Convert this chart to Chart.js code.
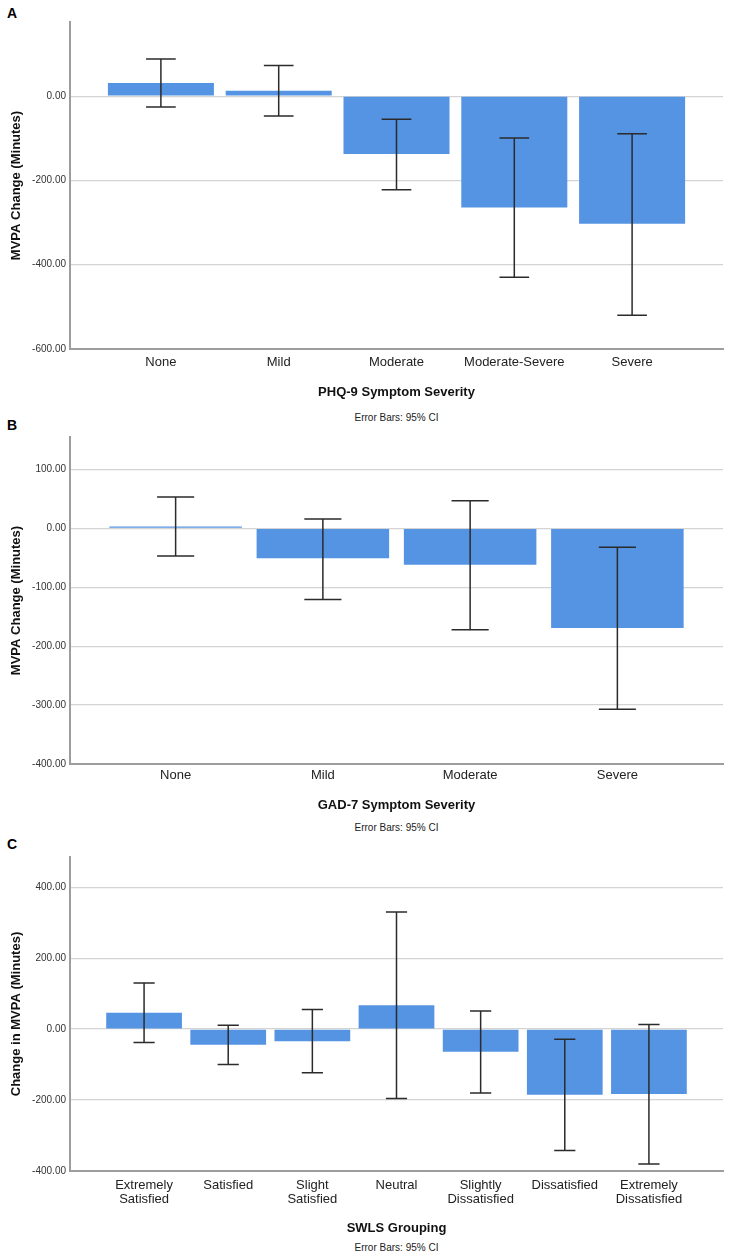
<!DOCTYPE html>
<html lang="en">
<head>
<meta charset="UTF-8">
<title>MVPA change by symptom severity</title>
<script src="https://cdn.jsdelivr.net/npm/chart.js"></script>
<style>
  body { margin: 0; background: #fff; font-family: 'Liberation Sans', Arial, sans-serif; }
  .page { position: relative; width: 733px; height: 1257px; }
  .panel { position: absolute; left: 0; width: 733px; }
  .letter { position: absolute; left: 7px; font-weight: bold; font-size: 14px; line-height: 14px; color: #000; }
  .note { position: absolute; left: 70px; width: 653px; text-align: center; font-size: 10px; line-height: 12px; color: #222; }
</style>
</head>
<body>
<div class="page">
  <div class="letter" style="top:6px">A</div>
  <div class="panel" style="top:0; height:400px"><canvas id="phqChart"></canvas></div>
  <div class="note" style="top:412px">Error Bars: 95% CI</div>

  <div class="letter" style="top:418px">B</div>
  <div class="panel" style="top:410px; height:403px"><canvas id="gadChart"></canvas></div>
  <div class="note" style="top:822px">Error Bars: 95% CI</div>

  <div class="letter" style="top:837px">C</div>
  <div class="panel" style="top:830px; height:406px"><canvas id="swlsChart"></canvas></div>
  <div class="note" style="top:1242px">Error Bars: 95% CI</div>
</div>

<script>
// A - PHQ-9
const phqLabels = ['None', 'Mild', 'Moderate', 'Moderate-Severe', 'Severe'];
const phqMeans = [31, 13, -137, -264, -303];
const phqLow = [-26, -47, -222, -430, -520];
const phqHigh = [88, 73, -55, -99, -89];
const phqTicks = [-600, -400, -200, 0];

// B - GAD-7
const gadLabels = ['None', 'Mild', 'Moderate', 'Severe'];
const gadMeans = [3, -51, -62, -169];
const gadLow = [-47, -121, -172, -307];
const gadHigh = [53, 16, 47, -32];
const gadTicks = [-400, -300, -200, -100, 0, 100];

// C - SWLS
const swlsLabels = [['Extremely', 'Satisfied'], 'Satisfied', ['Slight', 'Satisfied'], 'Neutral',
                    ['Slightly', 'Dissatisfied'], 'Dissatisfied', ['Extremely', 'Dissatisfied']];
const swlsMeans = [46, -44, -34, 67, -64, -185, -183];
const swlsLow = [-38, -100, -123, -196, -180, -342, -380];
const swlsHigh = [130, 11, 55, 330, 51, -29, 13];
const swlsTicks = [-400, -200, 0, 200, 400];

const FONT = "'Liberation Sans', Arial, sans-serif";
const BAR_COLOR = '#5593e3';
const AXIS_COLOR = '#9d9d9d';
const GRID_COLOR = '#d4d4d4';

function drawChart(id, o) {
    const n = o.labels.length;
    const spacing = (653 - 64) / n;        // SPSS leaves ~32px extra each side
    const edge = 0.5 + 32 / spacing;

    const errorBars = {
        id: 'errorBars',
        afterDatasetsDraw(chart) {
            const ctx = chart.ctx;
            const y = chart.scales.y;
            const bars = chart.getDatasetMeta(0).data;
            ctx.save();
            ctx.strokeStyle = '#2b2b2b';
            ctx.lineWidth = 1.5;
            bars.forEach((bar, i) => {
                const yl = y.getPixelForValue(o.low[i]);
                const yh = y.getPixelForValue(o.high[i]);
                const half = bar.width * 0.14;
                ctx.beginPath();
                ctx.moveTo(bar.x, yl); ctx.lineTo(bar.x, yh);
                ctx.moveTo(bar.x - half, yl); ctx.lineTo(bar.x + half, yl);
                ctx.moveTo(bar.x - half, yh); ctx.lineTo(bar.x + half, yh);
                ctx.stroke();
            });
            ctx.restore();
        }
    };

    return new Chart(document.getElementById(id), {
        type: 'bar',
        data: {
            datasets: [{
                data: o.means.map((v, i) => ({ x: i, y: v })),
                backgroundColor: BAR_COLOR,
                borderWidth: 0,
                barPercentage: 0.9,
                categoryPercentage: 1
            }]
        },
        options: {
            responsive: true,
            maintainAspectRatio: false,
            animation: false,
            layout: { padding: { top: o.top, right: 10, left: 0, bottom: 0 } },
            plugins: { legend: { display: false }, tooltip: { enabled: false } },
            scales: {
                x: {
                    type: 'linear',
                    offset: false,
                    min: -edge,
                    max: n - 1 + edge,
                    afterBuildTicks: s => { s.ticks = o.labels.map((_, i) => ({ value: i })); },
                    afterFit: s => { s.height = o.xHeight; },
                    grid: { display: false, drawTicks: false },
                    border: { display: true, color: AXIS_COLOR, width: 2 },
                    ticks: {
                        autoSkip: false,
                        maxRotation: 0,
                        padding: o.tickPad,
                        color: '#222',
                        font: { family: FONT, size: 13, lineHeight: 1.1 },
                        callback: v => o.labels[Math.round(v)]
                    },
                    title: {
                        display: true,
                        text: o.xTitle,
                        color: '#111',
                        padding: { top: 0, bottom: 0 },
                        font: { family: FONT, size: 13, weight: 'bold' }
                    }
                },
                y: {
                    min: o.yMin,
                    max: o.yMax,
                    afterBuildTicks: s => { s.ticks = o.ticks.map(v => ({ value: v })); },
                    afterFit: s => { s.width = 70; },
                    grid: { color: GRID_COLOR, lineWidth: 1.2, drawTicks: false },
                    border: { display: true, color: AXIS_COLOR, width: 2 },
                    ticks: {
                        padding: 4,
                        color: '#333',
                        font: { family: FONT, size: 10 },
                        callback: v => v.toFixed(2)
                    },
                    title: {
                        display: true,
                        text: o.yTitle,
                        color: '#111',
                        padding: { top: 9, bottom: 0 },
                        font: { family: FONT, size: 13, weight: 'bold' }
                    }
                }
            }
        },
        plugins: [errorBars]
    });
}

drawChart('phqChart', {
    labels: phqLabels, means: phqMeans, low: phqLow, high: phqHigh, ticks: phqTicks,
    yMin: -600, yMax: 176, top: 22, xHeight: 51, tickPad: 6,
    xTitle: 'PHQ-9 Symptom Severity', yTitle: 'MVPA Change (Minutes)'
});

drawChart('gadChart', {
    labels: gadLabels, means: gadMeans, low: gadLow, high: gadHigh, ticks: gadTicks,
    yMin: -400, yMax: 155, top: 27, xHeight: 49, tickPad: 4,
    xTitle: 'GAD-7 Symptom Severity', yTitle: 'MVPA Change (Minutes)'
});

drawChart('swlsChart', {
    labels: swlsLabels, means: swlsMeans, low: swlsLow, high: swlsHigh, ticks: swlsTicks,
    yMin: -400, yMax: 485, top: 27, xHeight: 65, tickPad: 7,
    xTitle: 'SWLS Grouping', yTitle: 'Change in MVPA (Minutes)'
});
</script>
</body>
</html>
